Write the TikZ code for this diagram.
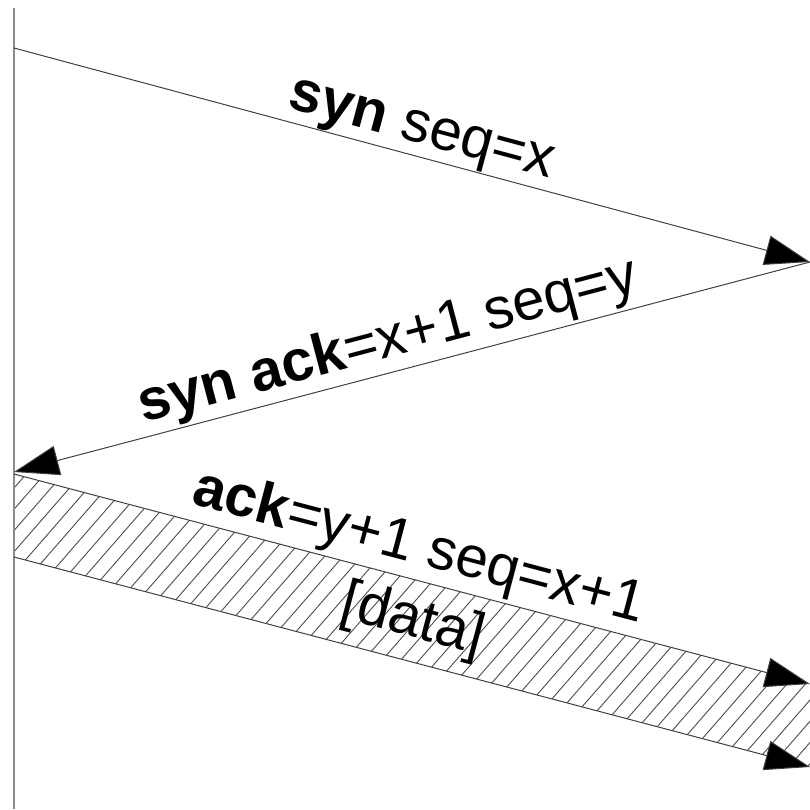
\documentclass[tikz,border=0pt]{standalone}
\usepackage{fontspec}
\setmainfont{Liberation Sans}
\usetikzlibrary{arrows.meta,calc}
\tikzset{
  msg/.style={draw=black!75, line width=1pt, -{Triangle[length=45pt,width=30pt,fill=black]}},
  edge/.style={draw=black!75, line width=1pt},
  lbl/.style={font=\fontsize{58}{68}\selectfont, anchor=base, inner sep=0pt},
  hatch/.style={draw=black!70, line width=0.9pt},
  lifeline/.style={draw=black!45, line width=1.6pt}
}
\begin{document}
\begin{tikzpicture}[x=1pt, y=-1pt]
  \useasboundingbox (0,0) rectangle (810,809);

  % end points of the exchanged segments
  \coordinate (top)   at (14,8);
  \coordinate (bot)   at (14,809);
  \coordinate (a0)    at (14,48);
  \coordinate (a1)    at (810,262);
  \coordinate (b1)    at (14,472);
  \coordinate (d0)    at (14,474);
  \coordinate (d1)    at (810,684);
  \coordinate (e0)    at (14,557);
  \coordinate (e1)    at (810,767);

  % data segment: hatched band
  \begin{scope}
    \clip (d0) -- ($(d1)!-0.1!(d0)$) -- ($(e1)!-0.1!(e0)$) -- (e0) -- cycle;
    \foreach \i in {-830,-811.5,...,900} {
      \draw[hatch] (\i,820) -- ++(740,-850);
    }
  \end{scope}
  \draw[edge] (e1) -- ($(e1)!-0.1!(e0)$);
  \draw[edge] (d1) -- ($(d1)!-0.1!(d0)$);

  % sender time line
  \draw[lifeline] (top) -- (bot);

  % segments
  \draw[msg] (a0) -- (a1);
  \draw[msg] (a1) -- (b1);
  \draw[msg] (d0) -- (d1);
  \draw[msg] (e0) -- (e1);

  % labels
  \node[lbl, rotate=-15.05] (l1) at (418,143) {\textbf{syn} seq=x};
  \node[lbl, rotate=14.8]   (l2) at (392,357) {\textbf{syn ack}=x+1 seq=y};
  \node[lbl, rotate=-14.8]  (l3) at (415,563) {\textbf{ack}=y+1 seq=x+1};
  \node[lbl, rotate=-14.8]  (l4) at (409,636) {[data]};
\end{tikzpicture}
\end{document}
